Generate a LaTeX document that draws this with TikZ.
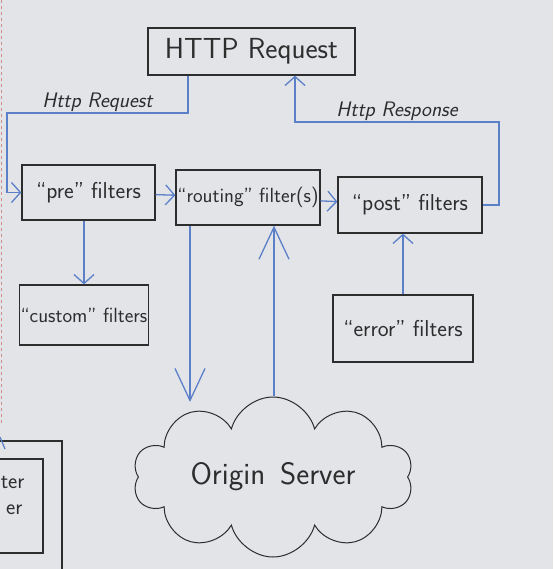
\documentclass[tikz,border=0pt]{standalone}
\usetikzlibrary{shapes.symbols,arrows.meta}

\definecolor{penblue}{RGB}{92,128,200}
\definecolor{penink}{RGB}{45,45,45}
\definecolor{board}{RGB}{226,228,232}
\definecolor{marginred}{RGB}{210,140,140}

\begin{document}
\begin{tikzpicture}[x=1pt,y=-1pt,
    box/.style={draw=penink,line width=1.3pt,inner sep=1pt,text=penink},
    flow/.style={penblue,line width=1.3pt,-{Straight Barb[length=9pt,width=20pt]}},
    bigflow/.style={penblue,line width=1.3pt,-{Straight Barb[length=32pt,width=30pt]}},
    note/.style={font=\fontsize{21}{24}\sffamily\itshape,text=penink}]
      % \draw[help lines](0,0) grid[step=50] (553,569);

      % Bounding box
      \useasboundingbox (0,0) rectangle (553,569);
      \clip (0,0) rectangle (553,569);
      \fill[board] (0,0) rectangle (553,569);
      \draw[marginred,dashed,line width=1pt] (1.5,0) -- (1.5,425);

      \draw (251.5,51.5) node[box,minimum width=207pt,minimum height=47pt,font=\fontsize{29}{32}\sffamily] (http) {HTTP Request};

      \draw (88.5,192.5) node[box,minimum width=133pt,minimum height=55pt,font=\fontsize{23}{26}\sffamily] (pre) {``pre'' filters};
      \draw (248,197.5) node[box,minimum width=144pt,minimum height=55pt,font=\fontsize{20.5}{23}\sffamily] (routing) {``routing'' filter(s)};
      \draw (410,205) node[box,minimum width=144pt,minimum height=56pt,font=\fontsize{23}{26}\sffamily] (post) {``post'' filters};

      \draw (84,315) node[box,minimum width=128pt,minimum height=60pt,font=\fontsize{20.5}{24}\sffamily] (custom) {``custom'' filters};
      \draw (403,328.5) node[box,minimum width=140pt,minimum height=67pt,font=\fontsize{23}{26}\sffamily] (error) {``error'' filters};

      \draw (273,477) node[cloud,cloud puffs=10,aspect=2.2,inner sep=0pt,draw=penink,line width=1pt,
        minimum width=280pt,minimum height=160pt,font=\fontsize{31}{34}\sffamily,text=penink] (server) {Origin\, Server};

      % cut-off boxes at the lower left
      \draw[penink,line width=1.3pt] (-20,441) -- (62,441) -- (62,575);
      \draw[penink,line width=1.1pt] (-20,459) -- (43,459) -- (43,553) -- (-20,553);
      \draw (28,482) node[anchor=east,font=\fontsize{22}{24}\sffamily,text=penink] (sideA) {ter};
      \draw (26,510) node[anchor=east,font=\fontsize{22}{24}\sffamily,text=penink] (sideB) {er};
      \coordinate (tipA) at (0,437);
      \coordinate (tipB) at (5,449);
      \draw[penblue,line width=1.2pt] (tipA) -- (tipB);

      \coordinate (reqdrop) at (188,113);
      \coordinate (reqleft) at (7,113);
      \coordinate (resright) at (499,122);
      \coordinate (resrise) at (295,122);
      \coordinate (srvin) at (190,402);
      \coordinate (srvout) at (274,396);

      \draw [flow] (http.south -| reqdrop) -- (reqdrop) -- (reqleft) node [note,midway,above,inner sep=1pt] {Http Request} |- (pre.west);
      \draw [flow] (post.east) -| (resright) -- (resrise) node [note,midway,above,inner sep=1pt] {Http Response} -- (http.south -| resrise);

      \draw [flow] (pre) -- (routing);
      \draw [flow] (routing) -- (post);
      \draw [flow] (pre.south -| custom.north) -- (custom.north);
      \draw [flow] (error.north) -- (error.north |- post.south);

      \draw [bigflow] (routing.south -| srvin) -- (srvin);
      \draw [bigflow] (srvout) -- (srvout |- routing.south);
    \end{tikzpicture}
\end{document}
